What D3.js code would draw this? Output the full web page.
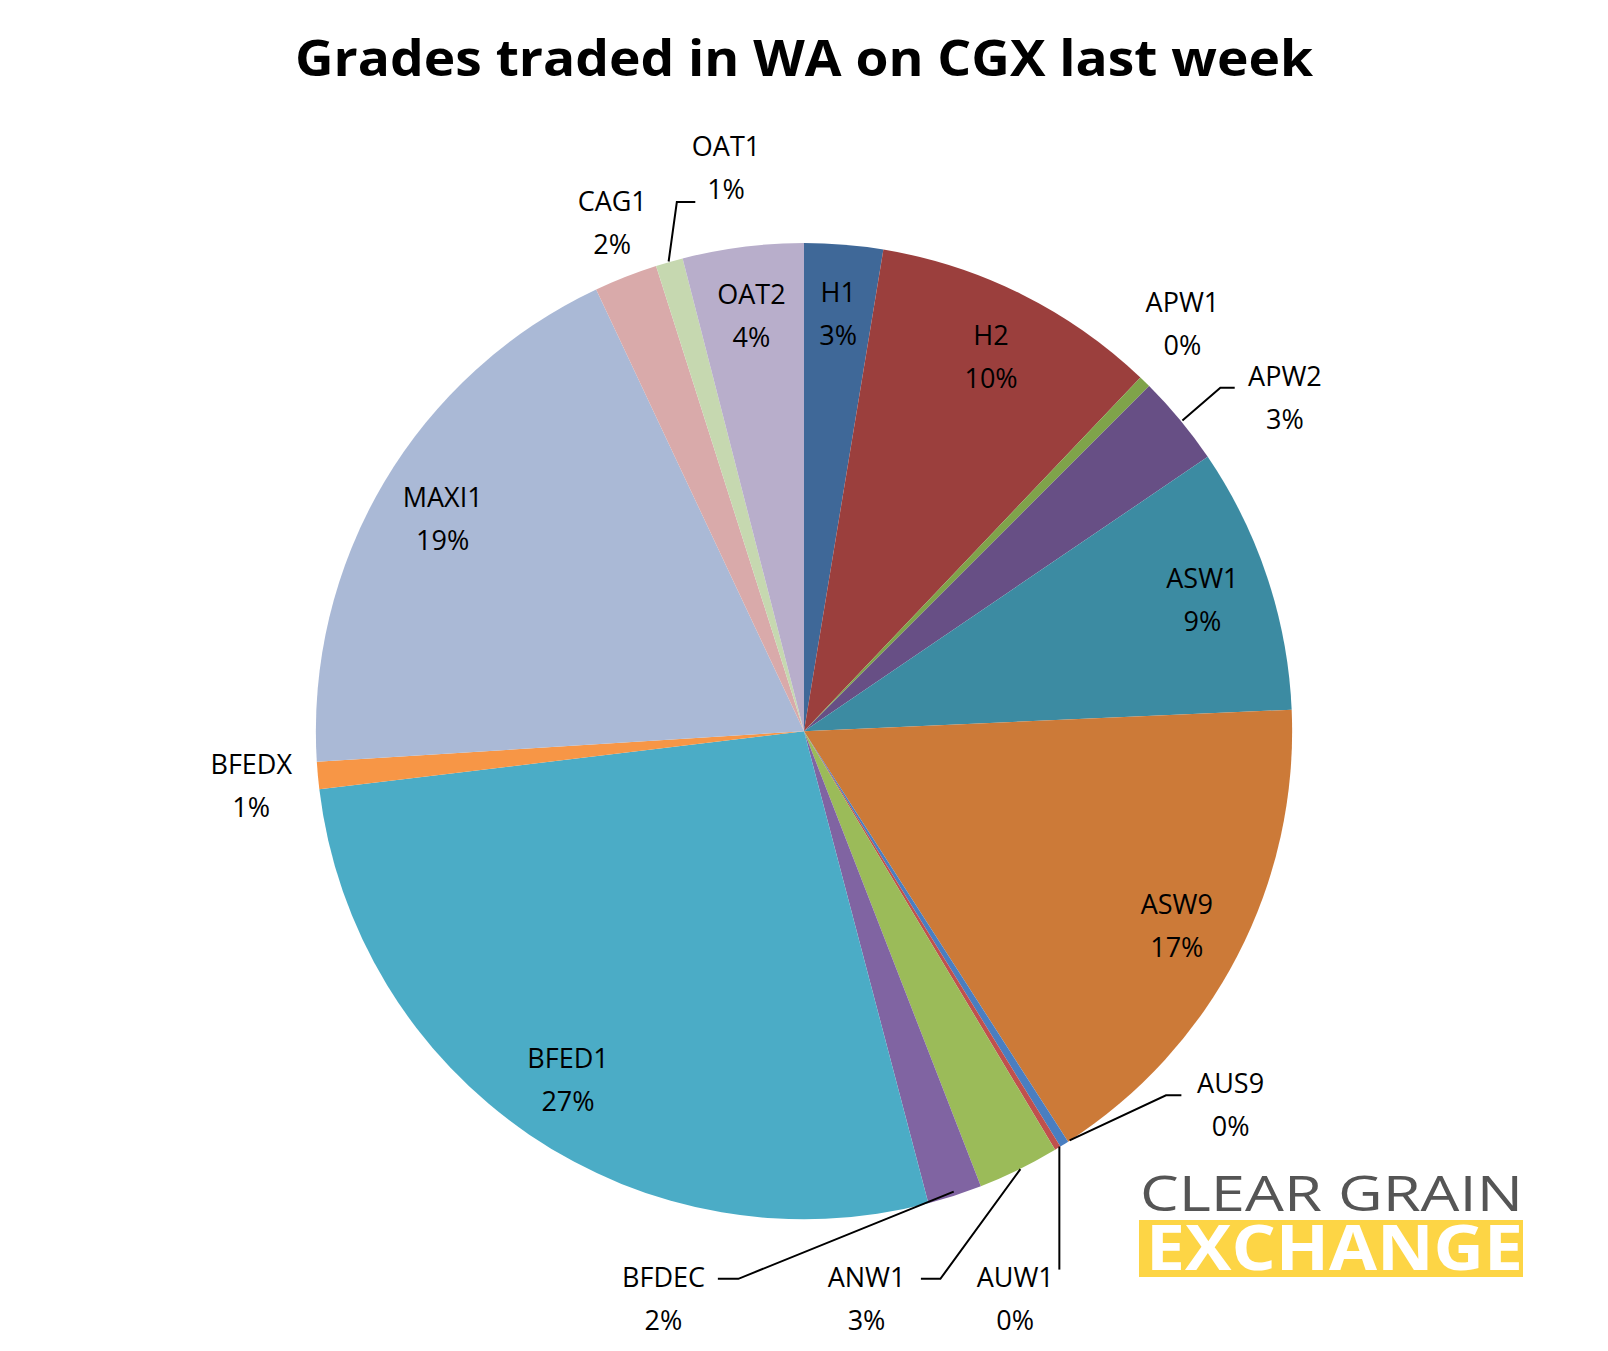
<!DOCTYPE html>
<html>
<head>
<meta charset="utf-8">
<title>Grades traded in WA on CGX last week</title>
<script src="https://d3js.org/d3.v7.min.js"></script>
<style>
  body { margin: 0; background: #fff; }
  text { font-family: "Open Sans", "Liberation Sans", sans-serif; }
</style>
</head>
<body>
<div id="chart"></div>
<script>
// grades, clockwise from 12 o'clock
var grades = ["H1","H2","APW1","APW2","ASW1","ASW9","AUS9","AUW1","ANW1","BFDEC","BFED1","BFEDX","MAXI1","CAG1","OAT1","OAT2"];
var shares = [2.6, 9.5, 0.4, 3.0, 8.8, 16.6, 0.3, 0.2, 2.7, 1.8, 27.2, 0.9, 19.0, 2.1, 0.9, 4.0];
var pctLabels = ["3%","10%","0%","3%","9%","17%","0%","0%","3%","2%","27%","1%","19%","2%","1%","4%"];
var colors = ["#3F6898","#9B3F3D","#7FA34A","#674F85","#3C8BA2","#CC7A38","#4A7EC0","#C0504D",
              "#9BBB59","#8064A2","#4BACC6","#F79646","#AAB9D6","#D9AAAA","#C6D8B0","#B8AECB"];

// layout was measured on a 0.975 preview, k brings it back to page pixels
var k = 1608 / 1568;

// label placement for slices labelled outside the pie (name line centre, leader points)
var outside = {
  OAT1:  {x: 708,  y: 142, leader: [[652,255],[660,197],[678,197]]},
  CAG1:  {x: 597,  y: 196},
  APW1:  {x: 1153, y: 294},
  APW2:  {x: 1253, y: 367, leader: [[1153,410],[1190,378],[1204,378]]},
  AUS9:  {x: 1200, y: 1056, leader: [[1043,1112],[1137,1068],[1152,1068]]},
  AUW1:  {x: 990,  y: 1245, leader: [[1033,1118],[1033,1238]]},
  ANW1:  {x: 845,  y: 1245, leader: [[995,1140],[917,1247],[898,1247]]},
  BFDEC: {x: 647,  y: 1245, leader: [[930,1162],[720,1247],[700,1247]]},
  BFEDX: {x: 245,  y: 745}
};

var W = 1608, H = 1351, cx = 784 * k, cy = 713 * k, R = 476 * k;
var svg = d3.select("#chart").append("svg").attr("width", W).attr("height", H);

svg.append("text").attr("x", 784 * k).attr("y", 74 * k).attr("text-anchor", "middle")
  .style("font-size", "50px").style("font-weight", "bold")
  .attr("textLength", 1018).attr("lengthAdjust", "spacingAndGlyphs")
  .text("Grades traded in WA on CGX last week");

var data = grades.map(function (g, i) { return {name: g, value: shares[i], pct: pctLabels[i], color: colors[i]}; });
var pie = d3.pie().sort(null).value(function (d) { return d.value; });
var arc = d3.arc().innerRadius(0).outerRadius(R);
var labelArc = d3.arc().innerRadius(R * 0.86).outerRadius(R * 0.86);

var g = svg.append("g").attr("transform", "translate(" + cx + "," + cy + ")");
var arcs = pie(data);
g.selectAll("path").data(arcs).enter().append("path")
  .attr("d", arc).attr("fill", function (d) { return d.data.color; });

// leader lines
var line = d3.line().x(function (p) { return p[0] * k; }).y(function (p) { return p[1] * k; });
arcs.forEach(function (a) {
  var o = outside[a.data.name];
  if (o && o.leader) {
    svg.append("path").attr("d", line(o.leader)).attr("fill", "none")
      .attr("stroke", "#000").attr("stroke-width", 2);
  }
});

// labels
arcs.forEach(function (a) {
  var o = outside[a.data.name], x, y;
  if (o) { x = o.x * k; y = o.y * k; }
  else { var c = labelArc.centroid(a); x = cx + c[0]; y = cy + c[1] - 20 * k; }
  var t = svg.append("text").attr("text-anchor", "middle").style("font-size", "27px").attr("fill", "#000");
  t.append("tspan").attr("x", x).attr("y", y + 10).text(a.data.name);
  t.append("tspan").attr("x", x).attr("y", y + 53).text(a.data.pct);
});

// logo
svg.append("text").attr("x", 1140).attr("y", 1211).style("font-size", "50px")
  .attr("fill", "#555").attr("textLength", 383).attr("lengthAdjust", "spacingAndGlyphs").text("CLEAR GRAIN");
svg.append("rect").attr("x", 1139).attr("y", 1220).attr("width", 384).attr("height", 57).attr("fill", "#FDD545");
svg.append("text").attr("x", 1146).attr("y", 1270).style("font-size", "62px").style("font-weight", "bold")
  .attr("fill", "#fff").attr("textLength", 377).attr("lengthAdjust", "spacingAndGlyphs").text("EXCHANGE");
</script>
</body>
</html>
